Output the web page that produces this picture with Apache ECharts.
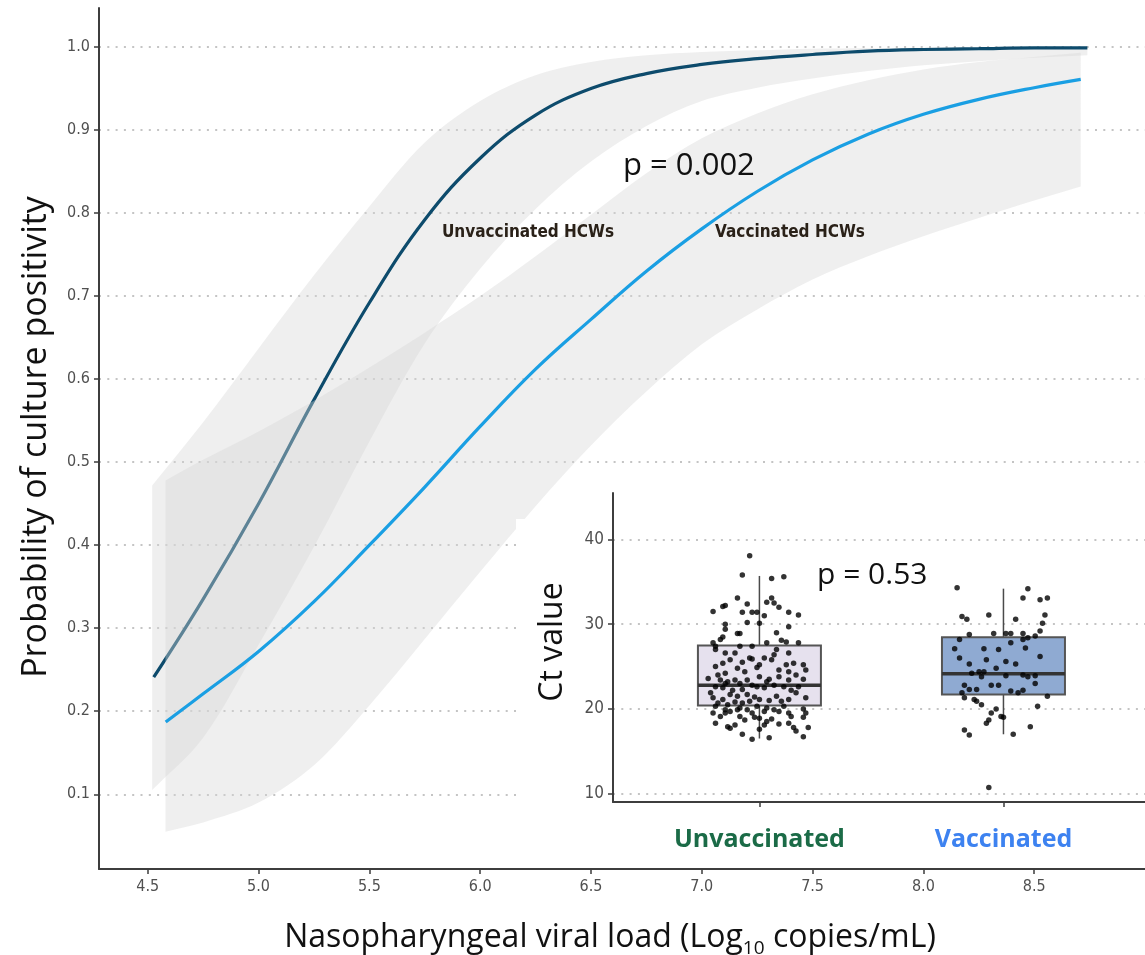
<!DOCTYPE html>
<html>
<head>
<meta charset="utf-8">
<title>Culture positivity by viral load</title>
<script src="https://cdn.jsdelivr.net/npm/echarts@6/dist/echarts.min.js"></script>
<style>
html, body { margin: 0; padding: 0; background: #fff; }
#main { width: 1145px; height: 955px; }
</style>
</head>
<body>
<div id="main"></div>
<script>
// main plot: probability of culture positivity vs viral load
var xTicks = [4.5, 5.0, 5.5, 6.0, 6.5, 7.0, 7.5, 8.0, 8.5];
var yTicks = [0.1, 0.2, 0.3, 0.4, 0.5, 0.6, 0.7, 0.8, 0.9, 1.0];

var unvacLine = [[4.527, 0.241], [4.75, 0.335], [5.00, 0.450], [5.25, 0.575], [5.50, 0.692], [5.75, 0.792],
	[6.00, 0.866], [6.25, 0.918], [6.50, 0.950], [6.75, 0.968], [7.00, 0.979], [7.25, 0.986], [7.50, 0.991],
	[7.75, 0.995], [8.00, 0.997], [8.25, 0.998], [8.50, 0.999], [8.74, 0.999]];
var vacLine = [[4.581, 0.187], [4.75, 0.221], [5.00, 0.272], [5.25, 0.332], [5.50, 0.400], [5.75, 0.470],
	[6.00, 0.543], [6.25, 0.612], [6.50, 0.672], [6.75, 0.730], [7.00, 0.781], [7.25, 0.826], [7.50, 0.864],
	[7.75, 0.895], [8.00, 0.919], [8.25, 0.937], [8.50, 0.951], [8.71, 0.961]];

// confidence bands, [x, lower, upper]
var unvacBand = [[4.52, 0.105, 0.472], [4.75, 0.168, 0.548], [5.00, 0.280, 0.637], [5.25, 0.398, 0.725],
	[5.50, 0.525, 0.808], [5.75, 0.643, 0.885], [6.00, 0.733, 0.935], [6.25, 0.805, 0.966], [6.50, 0.862, 0.982],
	[6.75, 0.905, 0.990], [7.00, 0.935, 0.994], [7.25, 0.951, 0.996], [7.50, 0.962, 0.998], [7.75, 0.971, 0.9985],
	[8.00, 0.978, 0.999], [8.25, 0.983, 0.9995], [8.50, 0.987, 1.000], [8.74, 0.990, 1.000]];
var vacBand = [[4.58, 0.055, 0.478], [4.75, 0.066, 0.503], [5.00, 0.090, 0.537], [5.25, 0.135, 0.574],
	[5.50, 0.207, 0.614], [5.75, 0.287, 0.656], [6.00, 0.368, 0.700], [6.25, 0.447, 0.748], [6.50, 0.520, 0.798],
	[6.75, 0.585, 0.848], [7.00, 0.642, 0.890], [7.25, 0.684, 0.920], [7.50, 0.720, 0.943], [7.75, 0.748, 0.960],
	[8.00, 0.772, 0.973], [8.25, 0.794, 0.982], [8.50, 0.815, 0.988], [8.71, 0.832, 0.993]];

// inset: Ct values
var groups = ['Unvaccinated', 'Vaccinated'];
var ctTicks = [10, 20, 30, 40];
// min, q1, median, q3, max
var unvacBox = [16.5, 20.4, 22.8, 27.5, 35.7];
var vacBox = [17.0, 21.7, 24.15, 28.45, 34.2];
// [jitter, Ct]
var unvacCt = [
	[-0.04, 38.1], [-0.07, 35.8], [0.05, 35.4], [0.10, 35.6],
	[-0.09, 33.1], [-0.05, 32.4], [-0.19, 31.5], [-0.15, 32.1], [-0.14, 32.2], [0.03, 32.6], [0.05, 33.1], [0.06, 32.5],
	[0.08, 32.0], [0.16, 31.1], [-0.03, 31.4], [-0.01, 31.4], [0.0, 30.1], [-0.14, 30.0], [-0.07, 31.4], [0.02, 31.0],
	[0.12, 31.4], [-0.05, 30.2],
	[-0.09, 28.9], [-0.08, 28.9], [0.07, 29.0], [0.12, 29.7], [-0.14, 29.4], [0.09, 28.1], [0.11, 27.9], [0.16, 27.8],
	[-0.19, 27.8], [-0.16, 28.2], [-0.15, 28.5], [-0.18, 27.4], [-0.18, 27.0], [-0.03, 27.4], [0.07, 27.0], [-0.08, 27.4],
	[0.03, 27.8],
	[-0.14, 26.6], [-0.10, 26.6], [-0.04, 26.0], [-0.03, 25.9], [0.02, 26.0], [0.05, 25.8], [0.06, 26.4], [0.12, 26.6],
	[0.14, 25.4], [0.18, 25.2], [0.19, 24.6], [0.11, 25.2], [0.08, 24.6], [-0.15, 25.4], [-0.12, 25.8], [-0.07, 25.5],
	[0.0, 25.2], [-0.18, 25.0], [0.12, 24.4], [0.15, 24.0],
	[-0.06, 24.4], [-0.14, 24.2], [-0.09, 24.8], [-0.01, 24.9], [0.18, 23.5], [0.12, 23.4], [0.04, 23.5], [0.08, 23.8],
	[-0.16, 23.4], [-0.13, 23.2], [-0.08, 23.0], [-0.21, 23.6], [-0.17, 24.0], [-0.14, 23.0], [-0.10, 23.4], [-0.05, 23.4],
	[0.0, 23.8], [0.03, 23.2],
	[-0.03, 22.8], [-0.01, 22.6], [0.02, 22.5], [-0.18, 22.6], [-0.15, 22.5], [-0.11, 22.2], [-0.07, 22.3], [0.13, 22.2],
	[0.15, 21.9], [0.06, 22.8], [0.10, 22.6], [0.16, 22.6], [-0.20, 21.9],
	[-0.12, 21.7], [-0.05, 21.7], [-0.09, 21.5], [-0.02, 21.4], [0.07, 21.5], [0.19, 21.3], [-0.19, 21.3], [-0.15, 21.1],
	[-0.10, 20.8], [-0.07, 20.7], [-0.04, 20.9], [0.0, 21.1], [0.04, 21.0], [0.09, 20.9], [0.12, 21.1], [-0.17, 20.7],
	[-0.13, 20.5],
	[-0.18, 20.3], [-0.14, 19.9], [-0.12, 19.7], [-0.08, 20.1], [-0.05, 19.9], [-0.03, 19.5], [0.02, 19.7], [0.06, 19.9],
	[0.10, 20.3], [0.18, 20.0], [0.19, 19.5], [-0.09, 19.9], [-0.01, 20.3], [0.03, 20.1], [0.08, 19.7], [0.12, 19.5],
	[-0.14, 19.5],
	[-0.19, 19.5], [-0.16, 19.1], [-0.08, 19.1], [-0.02, 19.0], [0.0, 18.9], [0.05, 18.8], [0.13, 19.1], [0.18, 19.0],
	[-0.06, 18.7],
	[-0.18, 18.3], [-0.13, 17.9], [-0.12, 17.7], [0.0, 17.6], [0.03, 18.5], [0.08, 18.2], [0.14, 17.8], [0.15, 17.4],
	[0.20, 17.8], [0.02, 18.1], [0.12, 18.3], [-0.10, 18.1],
	[-0.07, 17.0], [-0.03, 16.4], [0.04, 16.6], [0.18, 16.7]
];
var vacCt = [
	[-0.19, 34.3], [0.10, 34.2], [0.08, 33.1], [0.15, 32.9], [0.18, 33.1], [-0.06, 31.1], [0.17, 31.1], [-0.17, 30.9],
	[-0.15, 30.6], [0.05, 30.6], [0.16, 30.1], [-0.14, 28.8], [-0.18, 28.2], [-0.04, 28.9], [0.01, 28.9], [0.03, 28.9],
	[0.08, 28.9], [0.10, 28.4], [0.13, 28.6], [0.15, 29.2], [0.03, 27.8], [0.08, 28.2], [-0.20, 27.1], [-0.08, 27.1],
	[-0.02, 27.0], [0.09, 27.2], [-0.18, 26.0], [-0.07, 25.8], [0.15, 26.2], [0.01, 25.6], [-0.14, 25.3], [0.05, 25.3],
	[-0.03, 24.8], [-0.10, 24.4], [-0.08, 24.4], [-0.13, 24.2], [-0.09, 23.8], [0.01, 23.9], [0.08, 24.0], [0.10, 23.8],
	[0.13, 23.9], [-0.16, 22.8], [-0.05, 22.8], [-0.02, 22.8], [0.13, 23.0], [-0.14, 22.3], [-0.11, 22.3], [-0.17, 21.9],
	[0.03, 22.1], [0.06, 21.9], [0.08, 22.2], [-0.16, 21.3], [-0.12, 21.1], [0.18, 21.5], [-0.11, 20.9], [-0.09, 20.5],
	[0.14, 20.3], [-0.03, 20.0], [-0.05, 19.5], [-0.01, 19.1], [0.0, 19.0], [-0.06, 18.7], [-0.07, 18.3], [-0.16, 17.5],
	[-0.14, 16.9], [0.04, 17.0], [0.11, 17.9], [-0.06, 10.7]
];

var narrow = '"Liberation Sans Narrow", "DejaVu Sans Condensed", sans-serif';
var sans = '"Open Sans", "Noto Sans", sans-serif';
var axisColor = '#3d3d3d';
var gridDots = { color: '#c4c4c4', width: 2, type: [2, 6.3] };
var bandFill = 'rgba(215,215,215,0.4)';
var boxFill = ['#e6e1ee', '#8faad2'];

// band outline: upper edge left->right, lower edge right->left.
// corner points are doubled so the smoothing keeps the vertical ends straight
function bandSeries(band, z) {
	return {
		type: 'custom',
		xAxisIndex: 0,
		yAxisIndex: 0,
		z: z,
		silent: true,
		data: [[band[0][0], band[0][2]]],
		renderItem: function (params, api) {
			var pts = [];
			var n = band.length;
			for (var i = 0; i < n; i++) {
				var up = api.coord([band[i][0], band[i][2]]);
				pts.push(up);
				if (i === 0 || i === n - 1) pts.push(up.slice());
			}
			for (var j = n - 1; j >= 0; j--) {
				var lo = api.coord([band[j][0], band[j][1]]);
				pts.push(lo);
				if (j === 0 || j === n - 1) pts.push(lo.slice());
			}
			return { type: 'polygon', shape: { points: pts, smooth: 0.33 }, style: { fill: bandFill } };
		}
	};
}

function boxItem(params, api) {
	var x = api.value(0);
	var lo = api.coord([x, api.value(1)]);
	var q1 = api.coord([x, api.value(2)]);
	var md = api.coord([x, api.value(3)]);
	var q3 = api.coord([x, api.value(4)]);
	var hi = api.coord([x, api.value(5)]);
	var half = api.size([0.252, 0])[0];
	return {
		type: 'group',
		children: [
			{ type: 'line', shape: { x1: lo[0], y1: lo[1], x2: q1[0], y2: q1[1] }, style: { stroke: '#4a4a4a', lineWidth: 1.5 } },
			{ type: 'line', shape: { x1: q3[0], y1: q3[1], x2: hi[0], y2: hi[1] }, style: { stroke: '#4a4a4a', lineWidth: 1.5 } },
			{ type: 'rect', shape: { x: q3[0] - half, y: q3[1], width: half * 2, height: q1[1] - q3[1] },
				style: { fill: boxFill[params.dataIndex], stroke: '#555', lineWidth: 2 } },
			{ type: 'line', shape: { x1: md[0] - half, y1: md[1], x2: md[0] + half, y2: md[1] }, style: { stroke: '#333', lineWidth: 3.5 } }
		]
	};
}

var boxData = [[1].concat(unvacBox), [2].concat(vacBox)];
var unvacPts = unvacCt.map(function (p) { return [1 + p[0], p[1]]; });
var vacPts = vacCt.map(function (p) { return [2 + p[0], p[1]]; });

var chart = echarts.init(document.getElementById('main'));
var option = {
	animation: false,
	backgroundColor: '#fff',
	grid: [
		{ left: 99, right: 0, top: 8, bottom: 86 },
		{ left: 613, right: 0, top: 493, bottom: 153 }
	],
	xAxis: [{
		type: 'value', gridIndex: 0, min: 4.28, max: 9.0,
		axisLine: { lineStyle: { color: axisColor, width: 2 } },
		axisTick: { customValues: xTicks, length: 5, lineStyle: { color: axisColor, width: 1.5 } },
		axisLabel: {
			customValues: xTicks, margin: 10, color: '#505050', fontSize: 16, fontFamily: narrow,
			formatter: function (v) { return v.toFixed(1); }
		},
		splitLine: { show: false }
	}, {
		type: 'value', gridIndex: 1, min: 0.4, max: 2.58, z: 6,
		axisLine: { lineStyle: { color: axisColor, width: 2 } },
		axisTick: { customValues: [1, 2], length: 5, lineStyle: { color: axisColor, width: 1.5 } },
		axisLabel: {
			customValues: [1, 2], margin: 25,
			formatter: function (v) { return v === 1 ? '{u|' + groups[0] + '}' : '{v|' + groups[1] + '}'; },
			rich: {
				u: { color: '#1b6b47', fontSize: 25, fontWeight: 'bold', fontFamily: sans },
				v: { color: '#3d82f0', fontSize: 25, fontWeight: 'bold', fontFamily: sans }
			}
		},
		splitLine: { show: false }
	}],
	yAxis: [{
		type: 'value', gridIndex: 0, min: 0.01, max: 1.047,
		axisLine: { show: true, lineStyle: { color: axisColor, width: 2 } },
		axisTick: { show: true, customValues: yTicks, length: 5, lineStyle: { color: axisColor, width: 1.5 } },
		axisLabel: {
			customValues: yTicks, margin: 9, color: '#505050', fontSize: 16, fontFamily: narrow,
			formatter: function (v) { return v.toFixed(1); }
		},
		splitLine: { show: true, lineStyle: gridDots }
	}, {
		type: 'value', gridIndex: 1, min: 9, max: 45.5, z: 6,
		axisLine: { show: true, lineStyle: { color: axisColor, width: 2 } },
		axisTick: { show: true, customValues: ctTicks, length: 5, lineStyle: { color: axisColor, width: 1.5 } },
		axisLabel: { customValues: ctTicks, margin: 9, color: '#505050', fontSize: 17, fontFamily: narrow },
		splitLine: { show: true, lineStyle: gridDots }
	}],
	series: [
		bandSeries(unvacBand, 1),
		{
			type: 'line', xAxisIndex: 0, yAxisIndex: 0, z: 2, data: unvacLine,
			smooth: 0.4, showSymbol: false, silent: true,
			lineStyle: { color: '#0d4b6c', width: 3.2 }
		},
		bandSeries(vacBand, 3),
		{
			type: 'line', xAxisIndex: 0, yAxisIndex: 0, z: 4, data: vacLine,
			smooth: 0.4, showSymbol: false, silent: true,
			lineStyle: { color: '#1a9fe3', width: 3.2 }
		},
		{
			type: 'custom', xAxisIndex: 1, yAxisIndex: 1, z: 7, silent: true,
			data: boxData, renderItem: boxItem
		},
		{
			type: 'scatter', xAxisIndex: 1, yAxisIndex: 1, z: 8, silent: true,
			data: unvacPts, symbolSize: 5.5, itemStyle: { color: '#000' }
		},
		{
			type: 'scatter', xAxisIndex: 1, yAxisIndex: 1, z: 8, silent: true,
			data: vacPts, symbolSize: 5.5, itemStyle: { color: '#000' }
		}
	],
	graphic: [
		// white backing of the inset
		{ type: 'rect', z: 5, silent: true, shape: { x: 516, y: 519, width: 629, height: 347 }, style: { fill: '#fff' } },
		{ type: 'text', z: 10, x: 623, y: 166, style: { text: 'p = 0.002', fill: '#111', fontSize: 31, fontFamily: sans, align: 'left', verticalAlign: 'middle' } },
		{ type: 'text', z: 10, x: 528, y: 233, style: { text: 'Unvaccinated HCWs', fill: '#2a2118', fontSize: 17, fontWeight: 'bold', fontFamily: narrow, align: 'center', verticalAlign: 'middle' } },
		{ type: 'text', z: 10, x: 790, y: 233, style: { text: 'Vaccinated HCWs', fill: '#2a2118', fontSize: 17, fontWeight: 'bold', fontFamily: narrow, align: 'center', verticalAlign: 'middle' } },
		{ type: 'text', z: 10, x: 817, y: 575, style: { text: 'p = 0.53', fill: '#111', fontSize: 30, fontFamily: sans, align: 'left', verticalAlign: 'middle' } },
		{ type: 'text', z: 10, x: 36, y: 437, rotation: Math.PI / 2, style: { text: 'Probability of culture positivity', fill: '#111', fontSize: 34, fontFamily: sans, align: 'center', verticalAlign: 'middle' } },
		{ type: 'text', z: 10, x: 553, y: 642, rotation: Math.PI / 2, style: { text: 'Ct value', fill: '#111', fontSize: 32, fontFamily: sans, align: 'center', verticalAlign: 'middle' } },
		{
			type: 'text', z: 10, x: 610, y: 938,
			style: {
				text: '{a|Nasopharyngeal viral load (Log}{b|10}{a| copies/mL)}',
				align: 'center', verticalAlign: 'middle',
				rich: {
					a: { fontSize: 32, fontFamily: sans, fill: '#111' },
					b: { fontSize: 19, fontFamily: sans, fill: '#111', padding: [22, 0, 0, 0] }
				}
			}
		}
	]
};
chart.setOption(option);
</script>
</body>
</html>
